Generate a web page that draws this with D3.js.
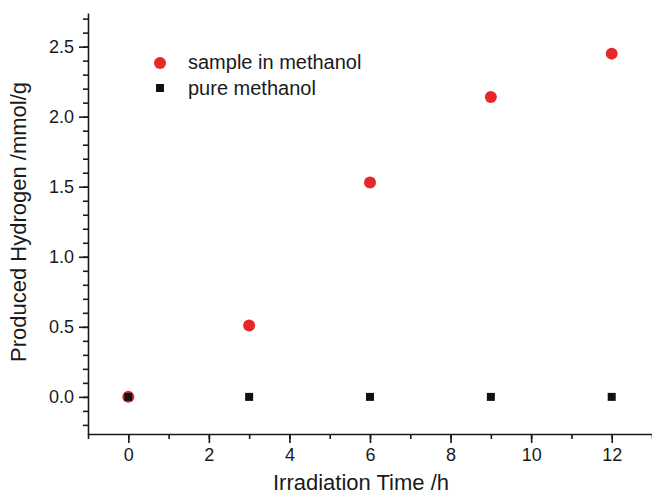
<!DOCTYPE html>
<html lang="en">
<head>
    <meta charset="UTF-8">
    <title>Produced Hydrogen</title>
    <style>
        body { margin: 0; background: #fff; }
        svg text { font-family: "Liberation Sans", Arial, sans-serif; fill: #1a1a1a; }
        .axis path, .axis line { stroke: #1a1a1a; stroke-width: 1.6px; }
    </style>
    <script src="https://d3js.org/d3.v7.min.js"></script>
</head>
<body>
    <svg id="chart"></svg>

    <script>
        // data
        const times = [0, 3, 6, 9, 12];
        const sampleInMethanol = [0, 0.51, 1.53, 2.14, 2.45];
        const pureMethanol = [0, 0, 0, 0, 0];
        const xTicks = [0, 2, 4, 6, 8, 10, 12];
        const yTicks = [0.0, 0.5, 1.0, 1.5, 2.0, 2.5];
        const seriesNames = ["sample in methanol", "pure methanol"];

        const width = 652;
        const height = 497;
        const margin = {left: 88, right: 0, top: 13, bottom: 63};

        const svg = d3.select("#chart")
            .attr("width", width)
            .attr("height", height);

        const x = d3.scaleLinear()
            .domain([-1, 13])
            .range([margin.left, width - margin.right]);

        const y = d3.scaleLinear()
            .domain([-0.265, 2.74])
            .range([height - margin.bottom, margin.top]);

        // minor ticks first
        svg.append("g")
            .attr("class", "axis")
            .attr("transform", `translate(0,${height - margin.bottom})`)
            .call(d3.axisBottom(x).tickValues(d3.range(-1, 14, 1)).tickSize(5).tickFormat(""))
            .call(g => g.select(".domain").remove());

        svg.append("g")
            .attr("class", "axis")
            .attr("transform", `translate(${margin.left},0)`)
            .call(d3.axisLeft(y).tickValues(d3.range(-2, 28, 1).map(d => d / 10)).tickSize(5).tickFormat(""))
            .call(g => g.select(".domain").remove());

        svg.append("g")
            .attr("class", "axis")
            .attr("transform", `translate(0,${height - margin.bottom})`)
            .call(d3.axisBottom(x).tickValues(xTicks).tickSize(9).tickSizeOuter(0).tickPadding(5));

        svg.append("g")
            .attr("class", "axis")
            .attr("transform", `translate(${margin.left},0)`)
            .call(d3.axisLeft(y).tickValues(yTicks).tickFormat(d3.format(".1f")).tickSize(9).tickSizeOuter(0).tickPadding(5));

        svg.selectAll(".axis text")
            .style("font-size", "18px");

        // axis titles
        svg.append("text")
            .attr("x", 361)
            .attr("y", 490)
            .attr("text-anchor", "middle")
            .style("font-size", "22px")
            .text("Irradiation Time /h");

        svg.append("text")
            .attr("transform", "translate(26,222) rotate(-90)")
            .attr("text-anchor", "middle")
            .style("font-size", "22px")
            .text("Produced Hydrogen /mmol/g");

        // points
        svg.selectAll(".sample")
            .data(times)
            .enter().append("circle")
            .attr("class", "sample")
            .attr("cx", d => x(d))
            .attr("cy", (d, i) => y(sampleInMethanol[i]))
            .attr("r", 6)
            .attr("fill", "#e8272a");

        const sq = 8;
        svg.selectAll(".pure")
            .data(times)
            .enter().append("rect")
            .attr("class", "pure")
            .attr("x", d => x(d) - sq / 2)
            .attr("y", (d, i) => y(pureMethanol[i]) - sq / 2)
            .attr("width", sq)
            .attr("height", sq)
            .attr("fill", "#111");

        // legend
        const legend = svg.append("g").attr("transform", "translate(160,63)");
        legend.append("circle").attr("r", 6).attr("fill", "#e8272a");
        legend.append("text").attr("x", 28).attr("y", 6).style("font-size", "20px").text(seriesNames[0]);
        legend.append("rect").attr("x", -4).attr("y", 21).attr("width", 8).attr("height", 8).attr("fill", "#111");
        legend.append("text").attr("x", 28).attr("y", 32).style("font-size", "20px").text(seriesNames[1]);
    </script>
</body>
</html>
